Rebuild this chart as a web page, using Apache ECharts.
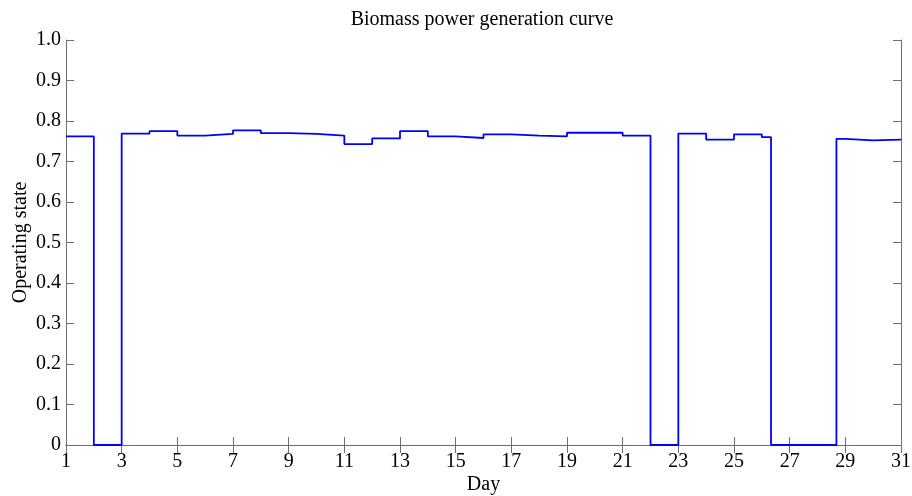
<!DOCTYPE html>
<html>
<head>
<meta charset="utf-8">
<script src="https://cdn.jsdelivr.net/npm/echarts@6/dist/echarts.min.js"></script>
<style>html,body{margin:0;padding:0;background:#fff}#c{width:912px;height:496px}</style>
</head>
<body>
<div id="c"></div>
<script>
// Step start positions (day) and operating-state value held from that point on
const stepDays = [1,2,3,4,5,6,7,8,9,10,11,12,13,14,15,16,17,18,19,20,21,22,23,24,25,26,26.33,28.68,29,30,31];
const stateValues = [0.762,0,0.769,0.775,0.764,0.768,0.777,0.770,0.768,0.764,0.743,0.757,0.775,0.762,0.758,0.767,0.764,0.762,0.771,0.771,0.764,0,0.769,0.754,0.767,0.760,0,0.756,0.752,0.754,0.754];
const xTicks = [1,3,5,7,9,11,13,15,17,19,21,23,25,27,29,31];
const yTicks = [0,0.1,0.2,0.3,0.4,0.5,0.6,0.7,0.8,0.9,1.0];

const font = 'Liberation Serif';
const axisColor = '#6e6e6e';
const chart = echarts.init(document.getElementById('c'));

// Build explicit staircase: each value held from its start day to the next start day
const seriesData = [];
for (let i = 0; i < stepDays.length - 1; i++) {
  seriesData.push([stepDays[i], stateValues[i]]);
  seriesData.push([stepDays[i + 1], stateValues[i]]);
}

const xBase = {
  type: 'value', min: 1, max: 31,
  axisLine: { show: true, lineStyle: { color: axisColor, width: 1 } },
  axisTick: { show: true, inside: true, length: 8, customValues: xTicks, lineStyle: { color: axisColor } },
  splitLine: { show: false }
};
const yBase = {
  type: 'value', min: 0, max: 1,
  axisLine: { show: true, lineStyle: { color: axisColor, width: 1 } },
  axisTick: { show: true, inside: true, length: 8, customValues: yTicks, lineStyle: { color: axisColor } },
  splitLine: { show: false }
};

chart.setOption({
  animation: false,
  backgroundColor: '#fff',
  title: {
    text: 'Biomass power generation curve',
    left: 477, top: 5, textAlign: 'center',
    textStyle: { fontFamily: font, fontSize: 20, fontWeight: 'normal', color: '#000' }
  },
  grid: { left: 66, right: 11, top: 40, bottom: 51, containLabel: false, outerBoundsMode: 'none' },
  xAxis: [
    Object.assign({}, xBase, {
      position: 'bottom',
      name: 'Day', nameLocation: 'middle', nameGap: 30, nameMoveOverlap: false,
      nameTextStyle: { fontFamily: font, fontSize: 20, color: '#000' },
      axisLabel: { show: true, customValues: xTicks, margin: 7, fontFamily: font, fontSize: 20, color: '#000' }
    }),
    Object.assign({}, xBase, { position: 'top', axisLabel: { show: false } })
  ],
  yAxis: [
    Object.assign({}, yBase, {
      position: 'left',
      name: 'Operating state', nameLocation: 'middle', nameGap: 35, nameMoveOverlap: false,
      nameTextStyle: { fontFamily: font, fontSize: 20, color: '#000' },
      axisLabel: {
        show: true, customValues: yTicks, margin: 5, fontFamily: font, fontSize: 20, color: '#000',
        formatter: v => (v === 0 ? '0' : v.toFixed(1))
      }
    }),
    Object.assign({}, yBase, { position: 'right', axisLabel: { show: false } })
  ],
  series: [{
    type: 'line',
    data: seriesData,
    showSymbol: false,
    symbol: 'none',
    clip: false,
    lineStyle: { color: '#0000ff', width: 1.8 },
    z: 5
  }]
});
</script>
</body>
</html>
